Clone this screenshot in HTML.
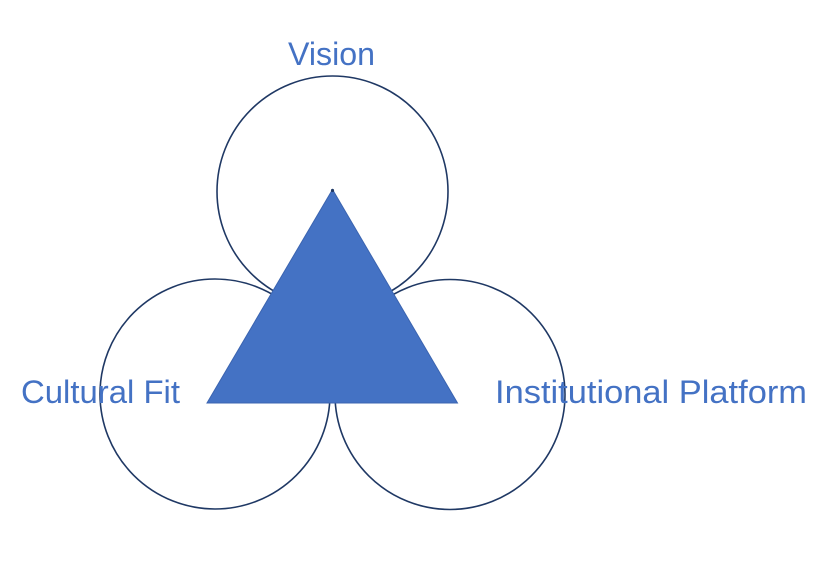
<!DOCTYPE html>
<html>
<head>
<meta charset="utf-8">
<style>
  html, body { margin: 0; padding: 0; background: #ffffff; }
  body { width: 815px; height: 566px; overflow: hidden; }
  svg { display: block; }
  text { font-family: "Liberation Sans", sans-serif; fill: #4472c4; font-size: 32px; }
</style>
</head>
<body>
<svg width="815" height="566" viewBox="0 0 815 566" xmlns="http://www.w3.org/2000/svg">
  <rect width="815" height="566" fill="#ffffff"/>
  <circle cx="332.5" cy="191.5" r="115.5" fill="none" stroke="#1f3864" stroke-width="1.6"/>
  <circle cx="215" cy="394" r="115" fill="none" stroke="#1f3864" stroke-width="1.6"/>
  <circle cx="450" cy="394.5" r="115" fill="none" stroke="#1f3864" stroke-width="1.6"/>
  <polygon points="332.5,189.5 207,403 457.5,403" fill="#4472c4" stroke="#3b64b0" stroke-width="1"/>
  <circle cx="332.5" cy="190.5" r="1.6" fill="#1f3864"/>
  <text x="288" y="65" textLength="87" lengthAdjust="spacingAndGlyphs">Vision</text>
  <text x="21" y="403" textLength="159" lengthAdjust="spacingAndGlyphs">Cultural Fit</text>
  <text x="495" y="403" textLength="312" lengthAdjust="spacingAndGlyphs">Institutional Platform</text>
</svg>
</body>
</html>
